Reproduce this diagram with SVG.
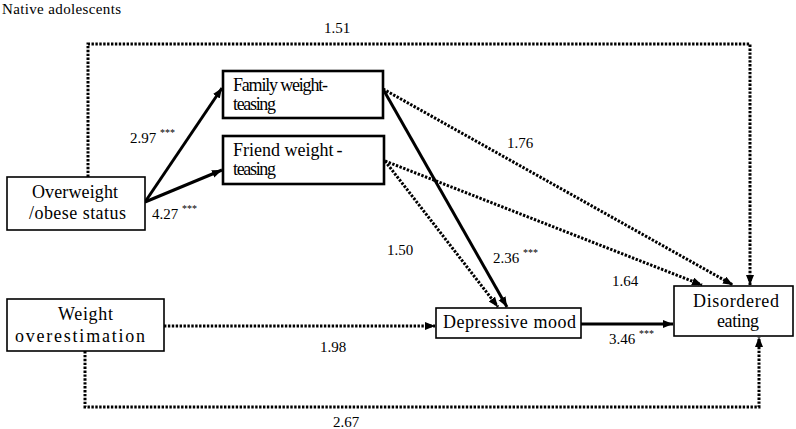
<svg xmlns="http://www.w3.org/2000/svg" width="796" height="429" viewBox="0 0 796 429">
<style>
text{font-family:'Liberation Serif','Times New Roman','DejaVu Serif',serif;fill:#000}
.bx{fill:#fff;stroke:#000;stroke-width:1.6}
.bxb{fill:#fff;stroke:#000;stroke-width:2.6}
.solid{fill:none;stroke:#000;stroke-width:3}
.dot{fill:none;stroke:#000;stroke-width:3;stroke-dasharray:2.4 1.5}
.lbl{font-size:15px}
.st{font-size:10px}
.nt{font-size:18px}
</style>
<defs>
<marker id="ah" markerUnits="userSpaceOnUse" markerWidth="11" markerHeight="9" refX="10" refY="4" orient="auto">
<path d="M0,0 L10,4 L0,8 Z" fill="#000"/>
</marker>
</defs>
<rect width="796" height="429" fill="#fff"/>
<text font-family="Liberation Serif, serif" x="2" y="14" font-size="15" textLength="119">Native adolescents</text>
<g id="connectors">
<line class="solid" x1="145" y1="202" x2="222" y2="88" marker-end="url(#ah)"/>
<line class="solid" x1="145" y1="202" x2="222" y2="170" marker-end="url(#ah)"/>
<line class="solid" x1="383" y1="89" x2="507" y2="307" marker-end="url(#ah)"/>
<line class="dot" x1="385" y1="161" x2="498" y2="307" marker-end="url(#ah)"/>
<line class="dot" x1="383" y1="89" x2="733" y2="285" marker-end="url(#ah)"/>
<line class="dot" x1="385" y1="161" x2="702" y2="285" marker-end="url(#ah)"/>
<polyline class="dot" points="88,177 88,44 750,44 750,285" marker-end="url(#ah)"/>
<line class="dot" x1="164" y1="326" x2="435" y2="326" marker-end="url(#ah)"/>
<line class="solid" x1="581" y1="324" x2="673" y2="324" marker-end="url(#ah)"/>
<polyline class="dot" points="85,351 85,407 759,407 759,337" marker-end="url(#ah)"/>
<text class="lbl" x="324" y="33">1.51</text>
<text class="lbl" x="130" y="143">2.97 <tspan class="st" dy="-7">***</tspan></text>
<text class="lbl" x="152" y="219">4.27 <tspan class="st" dy="-7">***</tspan></text>
<text class="lbl" x="507" y="148">1.76</text>
<text class="lbl" x="387" y="255">1.50</text>
<text class="lbl" x="493" y="263">2.36 <tspan class="st" dy="-7">***</tspan></text>
<text class="lbl" x="612" y="286">1.64</text>
<text class="lbl" x="609" y="344">3.46 <tspan class="st" dy="-7">***</tspan></text>
<text class="lbl" x="320" y="352">1.98</text>
<text class="lbl" x="333" y="427">2.67</text>
</g>
<g id="overweight">
<rect class="bx" x="7" y="177" width="138" height="53"/>
<text class="nt" x="75" y="198" text-anchor="middle" textLength="86">Overweight</text>
<text class="nt" x="77.5" y="219" text-anchor="middle" textLength="97">/obese status</text>
</g>
<g id="family">
<rect class="bxb" x="223" y="71" width="160" height="47"/>
<text class="nt" x="233" y="91" textLength="95">Family weight-</text>
<text class="nt" x="233" y="110" textLength="43">teasing</text>
</g>
<g id="friend">
<rect class="bxb" x="223" y="136" width="161" height="48"/>
<text class="nt" x="233" y="156">Friend weight<tspan dx="3">-</tspan></text>
<text class="nt" x="233" y="175" textLength="43">teasing</text>
</g>
<g id="weight">
<rect class="bx" x="7" y="299" width="157" height="52"/>
<text class="nt" x="85.5" y="320" text-anchor="middle" textLength="55">Weight</text>
<text class="nt" x="80" y="342" text-anchor="middle" textLength="130">overestimation</text>
</g>
<g id="depressive">
<rect class="bx" x="436" y="308" width="145" height="30"/>
<text class="nt" x="509.5" y="328" text-anchor="middle" textLength="133">Depressive mood</text>
</g>
<g id="disordered">
<rect class="bx" x="674" y="286" width="119" height="50"/>
<text class="nt" x="736" y="307" text-anchor="middle" textLength="86">Disordered</text>
<text class="nt" x="738" y="327" text-anchor="middle" textLength="42">eating</text>
</g>
</svg>
